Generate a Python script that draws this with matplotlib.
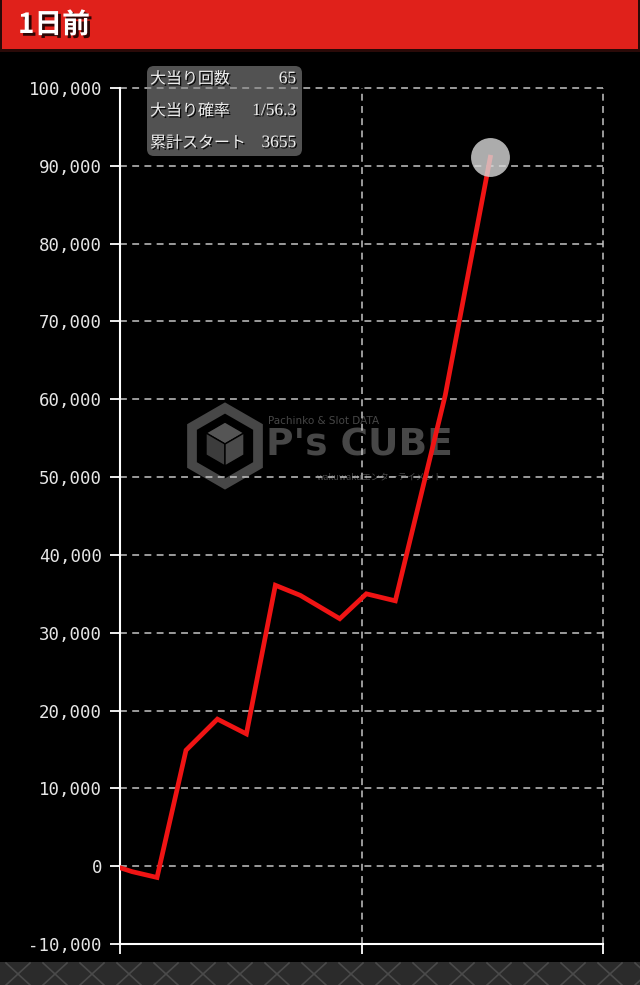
import matplotlib
matplotlib.use('Agg')
import matplotlib.pyplot as plt
import matplotlib.patheffects as pe
from matplotlib.patches import Rectangle, FancyBboxPatch, Polygon
from matplotlib.ticker import FuncFormatter

# data (x: games played, y: medal difference)
games = [0, 150, 460, 820, 1210, 1570, 1930, 2240, 2730, 3060, 3420, 4040, 4600]
diff = [-200, -700, -1450, 14900, 18900, 17000, 36100, 34800, 31800, 35000, 34100, 60500, 91100]
y_ticks = list(range(-10000, 100001, 10000))
x_ticks = [0, 3000, 6000]

title = '1日前'
info_labels = ['大当り回数', '大当り確率', '累計スタート']
info_values = ['65', '1/56.3', '3655']

W, H = 640, 985
CJK = ['Noto Sans CJK JP', 'DejaVu Sans']

fig = plt.figure(figsize=(W / 100, H / 100), dpi=100, facecolor='black')

# background layer in pixel coordinates
bg = fig.add_axes([0, 0, 1, 1], zorder=0)
bg.set_xlim(0, W)
bg.set_ylim(H, 0)
bg.axis('off')
bg.set_facecolor('black')

# header bar
bg.add_patch(Rectangle((0, 0), W, 52, facecolor='#2a0a08', edgecolor='none'))
bg.add_patch(Rectangle((2, 0), W - 4, 49, facecolor='#e0211b', edgecolor='none'))
bg.text(18, 25, title, color='white', fontsize=20, fontweight='bold', family=CJK,
        va='center', ha='left',
        path_effects=[pe.withSimplePatchShadow(offset=(2, -2), shadow_rgbFace='black', alpha=0.8)])

# bottom metal strip
bg.add_patch(Rectangle((0, 962), W, 23, facecolor='#2b2b2b', edgecolor='none'))
for cx in range(18, W + 40, 37):
    bg.plot([cx - 12, cx + 12], [963, 985], color='#4a4a4a', lw=1.2)
    bg.plot([cx - 12, cx + 12], [985, 963], color='#4a4a4a', lw=1.2)

# watermark
wm = '#474747'
hexo = [(225, 408), (258, 427), (258, 465), (225, 484), (192, 465), (192, 427)]
bg.add_patch(Polygon(hexo, closed=True, facecolor='none', edgecolor=wm, lw=7))
cube_top = [(225, 422), (244, 433), (225, 444), (206, 433)]
cube_l = [(206, 433), (225, 444), (225, 466), (206, 455)]
cube_r = [(244, 433), (225, 444), (225, 466), (244, 455)]
bg.add_patch(Polygon(cube_top, closed=True, facecolor='#555555', edgecolor='black', lw=1))
bg.add_patch(Polygon(cube_l, closed=True, facecolor='#3c3c3c', edgecolor='black', lw=1))
bg.add_patch(Polygon(cube_r, closed=True, facecolor='#4a4a4a', edgecolor='black', lw=1))
bg.text(268, 421, 'Pachinko & Slot DATA', color=wm, fontsize=7.5, family=['DejaVu Sans'],
        va='center', ha='left')
bg.text(266, 446, "P's CUBE", color=wm, fontsize=27, fontweight='bold', family=['DejaVu Sans'],
        va='center', ha='left')
bg.text(317, 477, 'wakuwakuエンターテイメント', color=wm, fontsize=6.5, family=CJK,
        va='center', ha='left')

# chart
ax = fig.add_axes([120 / W, 1 - 944 / H, (603 - 120) / W, (944 - 88) / H], zorder=1)
ax.set_facecolor('none')
ax.plot(games, diff, color='#f01414', lw=3.4, solid_joinstyle='miter', zorder=3)
ax.plot(games[-1:], diff[-1:], 'o', markersize=28, color='#d8d8d8', alpha=0.8,
        markeredgewidth=0, zorder=4)

ax.set_xlim(x_ticks[0], x_ticks[-1])
ax.set_ylim(y_ticks[0], y_ticks[-1])
ax.set_yticks(y_ticks)
ax.set_xticks(x_ticks)
ax.set_xticklabels([])
ax.yaxis.set_major_formatter(FuncFormatter(lambda v, p: f'{int(v):,}'))
ax.grid(True, color='#c4c4c4', linestyle=(0, (4.5, 3.5)), lw=1.1)
for gl in ax.get_xgridlines() + ax.get_ygridlines():
    gl.set_clip_on(False)
ax.tick_params(axis='both', direction='out', length=7, width=1.3, color='white',
               labelcolor='#e6e6e6', labelsize=12.5, pad=6)
for lbl in ax.get_yticklabels():
    lbl.set_family('DejaVu Sans Mono')
for s in ['top', 'right']:
    ax.spines[s].set_visible(False)
for s in ['left', 'bottom']:
    ax.spines[s].set_color('white')
    ax.spines[s].set_linewidth(1.5)

# info box on top
top = fig.add_axes([0, 0, 1, 1], zorder=2)
top.set_xlim(0, W)
top.set_ylim(H, 0)
top.axis('off')
top.set_facecolor('none')
top.add_patch(FancyBboxPatch((147, 66), 155, 90, boxstyle='round,pad=0,rounding_size=7',
                             facecolor='#8a8a8a', alpha=0.6, edgecolor='none'))
shadow = [pe.withSimplePatchShadow(offset=(1, -1), shadow_rgbFace='black', alpha=0.9)]
for i, (lab, val) in enumerate(zip(info_labels, info_values)):
    y = 79 + i * 32
    top.text(150, y, lab, color='#eeeeee', fontsize=11.5, family=CJK, va='center', ha='left',
             path_effects=shadow)
    top.text(296, y, val, color='#eeeeee', fontsize=12.5, family=['Liberation Serif'],
             va='center', ha='right', path_effects=shadow)

fig.savefig('out.png', dpi=100, facecolor='black')
